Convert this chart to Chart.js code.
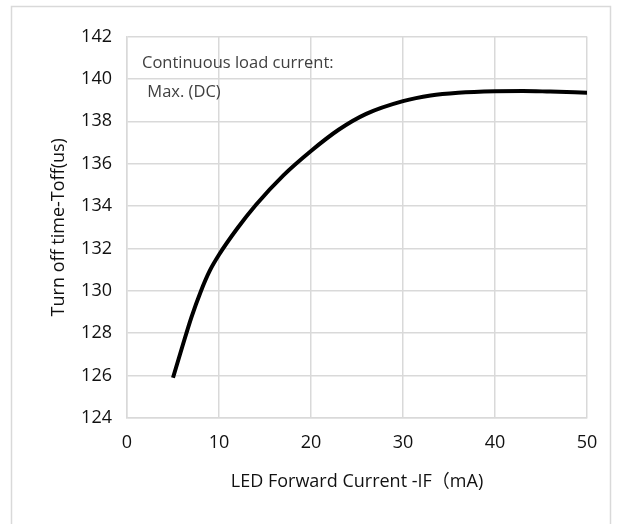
<!DOCTYPE html>
<html>
<head>
<meta charset="utf-8">
<script src="https://cdn.jsdelivr.net/npm/chart.js@4.4.1/dist/chart.umd.min.js"></script>
<style>
  html, body { margin: 0; padding: 0; background: #ffffff; }
  #wrap { position: relative; width: 619px; height: 524px; }
  canvas { display: block; }
</style>
</head>
<body>
<div id="wrap"><canvas id="c" width="619" height="524"></canvas></div>
<script>
// Data
const currentIF = [5, 6, 7, 8, 9, 10, 12, 14, 17, 20, 23, 26, 30, 33, 36, 40, 43, 46, 50];
const toffUs    = [125.9, 127.35, 128.75, 129.95, 130.95, 131.7, 132.95, 134.05, 135.45, 136.6, 137.6, 138.35, 138.95, 139.22, 139.35, 139.42, 139.43, 139.4, 139.35];
const xTicks = [0, 10, 20, 30, 40, 50];
const yTicks = [124, 126, 128, 130, 132, 134, 136, 138, 140, 142];
const xTitle = 'LED Forward Current -IF\uFF08mA)';
const yTitle = 'Turn off time-Toff(us)';
const noteLines = ['Continuous load current:', ' Max. (DC)'];

const FONT = "'Open Sans', 'Noto Sans', 'Noto Sans CJK SC', sans-serif";
const GRID = '#d9d9d9';

const frame = {
  id: 'frame',
  beforeDraw(chart) {
    const ctx = chart.ctx;
    ctx.save();
    ctx.fillStyle = '#ffffff';
    ctx.fillRect(0, 0, chart.width, chart.height);
    ctx.strokeStyle = GRID;
    ctx.lineWidth = 1.5;
    ctx.strokeRect(11.5, 6.5, 599, 540);
    ctx.restore();
  },
  afterDatasetsDraw(chart) {
    const ctx = chart.ctx;
    ctx.save();
    ctx.font = '16.5px ' + FONT;
    ctx.fillStyle = '#404040';
    ctx.textBaseline = 'middle';
    ctx.textAlign = 'left';
    ctx.fillText(noteLines[0], 142, 63);
    ctx.fillText(noteLines[1], 143, 92);
    ctx.restore();
  }
};

new Chart(document.getElementById('c'), {
  type: 'line',
  data: {
    datasets: [{
      data: currentIF.map((x, i) => ({ x: x, y: toffUs[i] })),
      borderColor: '#000000',
      borderWidth: 4,
      pointRadius: 0,
      fill: false,
      cubicInterpolationMode: 'monotone'
    }]
  },
  options: {
    responsive: false,
    animation: false,
    devicePixelRatio: 1,
    layout: { padding: { left: 44, right: 32, top: 36.5, bottom: 27.2 } },
    plugins: { legend: { display: false }, tooltip: { enabled: false } },
    scales: {
      x: {
        type: 'linear',
        min: 0, max: 50,
        afterBuildTicks(scale) { scale.ticks = xTicks.map(v => ({ value: v })); },
        afterFit(scale) { scale.height = 78.8; },
        grid: { color: GRID, lineWidth: 1.5, drawTicks: false },
        border: { color: GRID, width: 1.5 },
        ticks: { color: '#111111', font: { family: FONT, size: 18 }, padding: 14, maxRotation: 0 },
        title: { display: true, text: xTitle, color: '#111111', font: { family: FONT, size: 18 }, padding: { top: 4, bottom: 4 } }
      },
      y: {
        type: 'linear',
        min: 124, max: 142,
        afterBuildTicks(scale) { scale.ticks = yTicks.map(v => ({ value: v })); },
        afterFit(scale) { scale.width = 83; },
        grid: { color: GRID, lineWidth: 1.5, drawTicks: false },
        border: { color: GRID, width: 1.5 },
        ticks: { color: '#111111', font: { family: FONT, size: 18 }, padding: 15 },
        title: { display: true, text: yTitle, color: '#111111', font: { family: FONT, size: 18 }, padding: { top: 4, bottom: 4 } }
      }
    }
  },
  plugins: [frame]
});
</script>
</body>
</html>
